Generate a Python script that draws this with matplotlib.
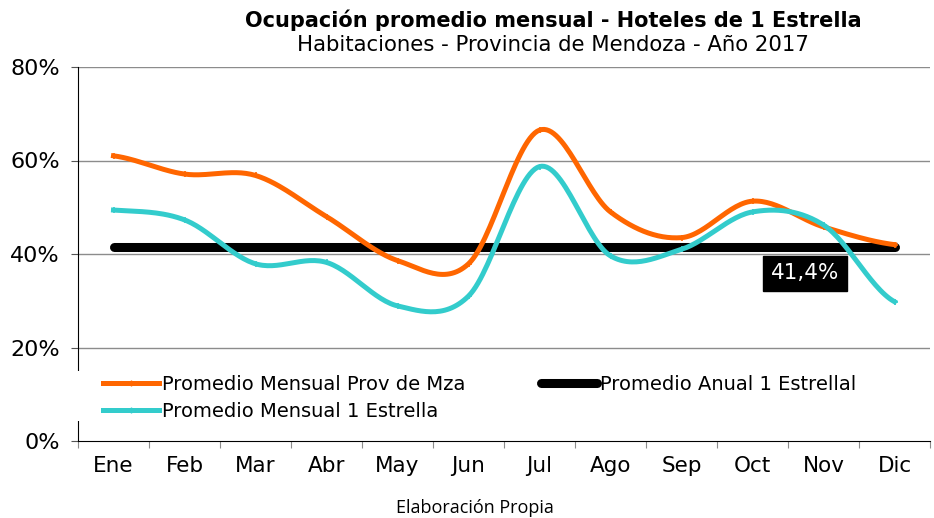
import numpy as np
import matplotlib
matplotlib.use("Agg")
import matplotlib.pyplot as plt
from matplotlib.lines import Line2D
from matplotlib.patches import Rectangle

meses = ["Ene", "Feb", "Mar", "Abr", "May", "Jun", "Jul", "Ago", "Sep", "Oct", "Nov", "Dic"]
prov_mza = [61.0, 57.1, 56.8, 48.0, 38.6, 37.9, 66.5, 49.0, 43.5, 51.3, 45.8, 42.0]
una_estrella = [49.4, 47.3, 37.9, 38.2, 28.9, 31.0, 58.7, 39.6, 41.0, 49.0, 46.2, 29.8]
promedio_anual = 41.4

NARANJA = "#FF6600"
TURQUESA = "#33CCCC"


def suavizar(y, n=30):
    # curva suavizada estilo Excel (Catmull-Rom)
    y = np.asarray(y, dtype=float)
    x = np.arange(len(y), dtype=float)
    p = np.concatenate([[y[0]], y, [y[-1]]])
    xs, ys = [], []
    for i in range(len(y) - 1):
        p0, p1, p2, p3 = p[i], p[i + 1], p[i + 2], p[i + 3]
        t = np.linspace(0, 1, n, endpoint=False)
        c1 = p1 + (p2 - p0) / 6
        c2 = p2 - (p3 - p1) / 6
        yy = (1 - t) ** 3 * p1 + 3 * (1 - t) ** 2 * t * c1 + 3 * (1 - t) * t ** 2 * c2 + t ** 3 * p2
        xs.append(x[i] + t)
        ys.append(yy)
    xs.append([x[-1]])
    ys.append([y[-1]])
    return np.concatenate(xs), np.concatenate(ys)


fig = plt.figure(figsize=(9.34, 5.18), dpi=100)
ax = fig.add_axes([78 / 934, 1 - 441 / 518, 852 / 934, 374 / 518])

x = np.arange(len(meses))

for y in [20, 40, 60, 80]:
    ax.axhline(y, color="#8c8c8c", lw=1.0, zorder=1)

ax.plot([x[0], x[-1]], [promedio_anual, promedio_anual], color="black", lw=6.5,
        solid_capstyle="round", zorder=3)

sx, sy = suavizar(prov_mza)
ax.plot(sx, sy, color=NARANJA, lw=3.6, zorder=4)
ax.plot(x, prov_mza, ls="none", marker="+", ms=5, mew=1.2, color=NARANJA, zorder=4)

sx, sy = suavizar(una_estrella)
ax.plot(sx, sy, color=TURQUESA, lw=3.6, zorder=5)
ax.plot(x, una_estrella, ls="none", marker="+", ms=5, mew=1.2, color=TURQUESA, zorder=5)

ax.text(9.74, 35.9, "41,4%", color="white", fontsize=15.5, ha="center", va="center",
        bbox=dict(boxstyle="square,pad=0.35", fc="black", ec="black"), zorder=6)

ax.set_xlim(-0.5, 11.5)
ax.set_ylim(0, 80)
ax.set_yticks([0, 20, 40, 60, 80])
ax.set_yticklabels(["0%", "20%", "40%", "60%", "80%"], fontsize=16)
ax.set_xticks(np.arange(-0.5, 12, 1))
ax.set_xticklabels([])
ax.set_xticks(x, minor=True)
ax.set_xticklabels(meses, minor=True, fontsize=15.5)
ax.tick_params(axis="x", which="major", length=5, color="#8c8c8c")
ax.tick_params(axis="x", which="minor", length=0, pad=11)
ax.tick_params(axis="y", length=5, color="#555555", pad=8)

for s in ["top", "right"]:
    ax.spines[s].set_visible(False)
ax.spines["left"].set_color("black")
ax.spines["bottom"].set_color("black")

# fondo blanco de la leyenda que tapa el eje
fig.patches.append(Rectangle((70 / 934, 1 - 421 / 518), 860 / 934, 50 / 518,
                             transform=fig.transFigure, fc="white", ec="none", zorder=3))

handles = [
    Line2D([], [], color=NARANJA, lw=3.6, marker="+", ms=5, markevery=[1]),
    Line2D([], [], color=TURQUESA, lw=3.6, marker="+", ms=5, markevery=[1]),
    Line2D([], [], color="black", lw=6.5, solid_capstyle="round"),
]
labels = ["Promedio Mensual Prov de Mza", "Promedio Mensual 1 Estrella",
          "Promedio Anual 1 Estrellal"]
leg = fig.legend(handles, labels, loc="upper left", bbox_to_anchor=(103 / 934, 1 - 375 / 518),
                 ncol=2, frameon=False, fontsize=14, handlelength=2.9, handletextpad=0.15,
                 columnspacing=3.85, labelspacing=0.42, borderaxespad=0, borderpad=0)
leg.set_zorder(4)

fig.text(553 / 934, 1 - 20 / 518, "Ocupación promedio mensual - Hoteles de 1 Estrella",
         ha="center", va="center", fontsize=15, fontweight="bold")
fig.text(553 / 934, 1 - 45 / 518, "Habitaciones - Provincia de Mendoza - Año 2017",
         ha="center", va="center", fontsize=15.3)
fig.text(475 / 934, 1 - 508 / 518, "Elaboración Propia", ha="center", va="center",
         fontsize=13, family="Open Sans")

fig.savefig("out.png", dpi=100)
